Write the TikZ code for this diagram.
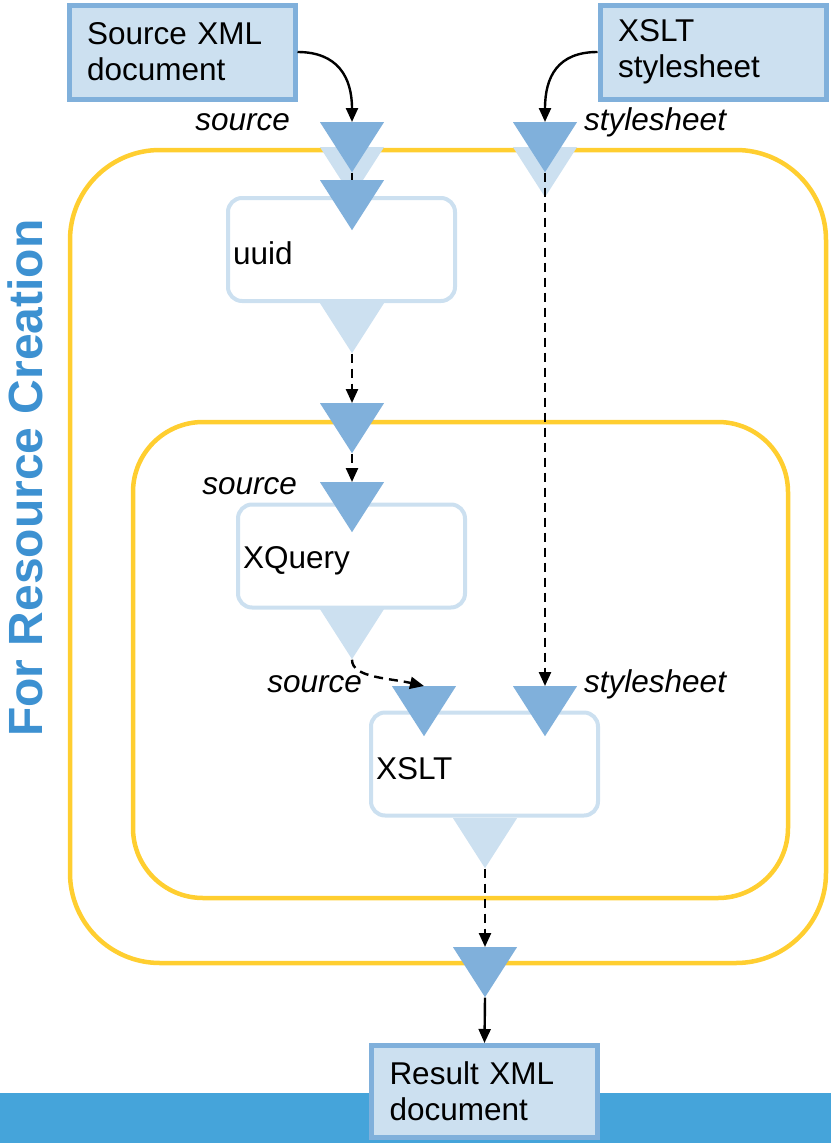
\documentclass[tikz,border=0pt]{standalone}
\usepackage{fontspec}
\setmainfont{Liberation Sans}
\usetikzlibrary{shapes.geometric,arrows.meta}
\definecolor{portdark}{HTML}{80B0DB}
\definecolor{portlight}{HTML}{CCE0F0}
\definecolor{groupyellow}{HTML}{FFCE30}
\definecolor{bandblue}{HTML}{45A4DA}
\definecolor{titleblue}{HTML}{3D91D1}
\tikzset{>={Triangle[length=14pt,width=12pt]}, x=1pt, y=-1pt, font=\fontsize{31.5}{36}\selectfont}
\tikzstyle{doc} = [draw=portdark, fill=portlight, line width=5pt, rectangle, minimum width=226, minimum height=94, text width=190, align=left, inner sep=0pt]
\tikzstyle{task} = [draw=portlight, fill=white, line width=4pt, rectangle, rounded corners=14, minimum width=227, minimum height=103, text width=217, text height=31pt, align=left, inner sep=0pt]
\tikzstyle{group} = [draw=groupyellow, line width=4.5pt, rectangle, inner sep=0pt]
\tikzstyle{port} = [isosceles triangle, isosceles triangle stretches, shape border rotate=270, minimum width=64, minimum height=50, inner sep=0pt, anchor=lower side]
\tikzstyle{portin} = [port, fill=portdark]
\tikzstyle{portout} = [port, fill=portlight]
\tikzstyle{portlabel} = [font=\fontsize{31.5}{36}\selectfont\itshape, inner sep=0pt]
\tikzstyle{flow} = [->, line width=2.4pt]
\tikzstyle{pipe} = [->, line width=2.4pt, dash pattern=on 9pt off 6pt]

\begin{document}
\begin{tikzpicture}
    \useasboundingbox (0,0) rectangle (831,1143);
    \fill [bandblue] (0,1093) rectangle (831,1143);

    % nested groups
    \node [group, rounded corners=90, minimum width=756, minimum height=813] (outer) at (448,556.5) {};
    \node [group, rounded corners=70, minimum width=655, minimum height=476] (inner) at (460.5,660) {};
    \node [rotate=90, text=titleblue, font=\fontsize{48}{48}\selectfont\bfseries] (title) at (25,478) {For Resource Creation};

    % documents
    \node [doc] (srcdoc) at (182,52) {Source XML\\document};
    \node [doc] (ssdoc) at (713,52) {XSLT\\stylesheet};
    \node [doc, minimum height=92] (resdoc) at (484.5,1091.5) {Result XML\\document};

    % tasks
    \node [task] (uuid) at (341.5,249.5) {uuid};
    \node [task] (xquery) at (351.5,556) {XQuery};
    \node [task] (xslt) at (484.5,764) {XSLT};

    % ports
    \node [portout] (srcgrp) at (352,147) {};
    \node [portout] (ssgrp) at (545,147) {};
    \node [portin] (srcin) at (352,122) {};
    \node [portin] (ssin) at (545,122) {};
    \node [portin] (uuidin) at (352,180) {};
    \node [portout] (uuidout) at (352,303) {};
    \node [portin] (innerin) at (352,403) {};
    \node [portin] (xqin) at (352,482) {};
    \node [portout] (xqout) at (352,609) {};
    \node [portin] (xsltsrc) at (424,686) {};
    \node [portin] (xsltss) at (545,686) {};
    \node [portout] (xsltout) at (485,818) {};
    \node [portin] (outerout) at (485,947) {};

    % port labels
    \node [portlabel, anchor=base east] (lsrc) at (290,130) {source};
    \node [portlabel, anchor=base west] (lss) at (584,130) {stylesheet};
    \node [portlabel, anchor=base east] (lxq) at (297,494) {source};
    \node [portlabel, anchor=base east] (lxsltsrc) at (362,692) {source};
    \node [portlabel, anchor=base west] (lxsltss) at (584,692) {stylesheet};

    % connections
    \draw [flow] (srcdoc.east) .. controls +(40,0) and +(0,-45) .. (srcin.lower side);
    \draw [flow] (ssdoc.west) .. controls +(-40,0) and +(0,-45) .. (ssin.lower side);
    \draw [pipe, -] (srcin.apex) -- (uuidin.lower side);
    \draw [pipe] (uuidout.apex) -- (innerin.lower side);
    \draw [pipe] (innerin.apex) -- (xqin.lower side);
    \draw [pipe] (ssin.apex) -- (xsltss.lower side);
    \draw [pipe] (xqout.apex) .. controls +(0,18) and +(-35,-8) .. (xsltsrc.lower side);
    \draw [pipe] (xsltout.apex) -- (outerout.lower side);
    \draw [flow] (outerout.apex) -- (resdoc.north);
\end{tikzpicture}
\end{document}
